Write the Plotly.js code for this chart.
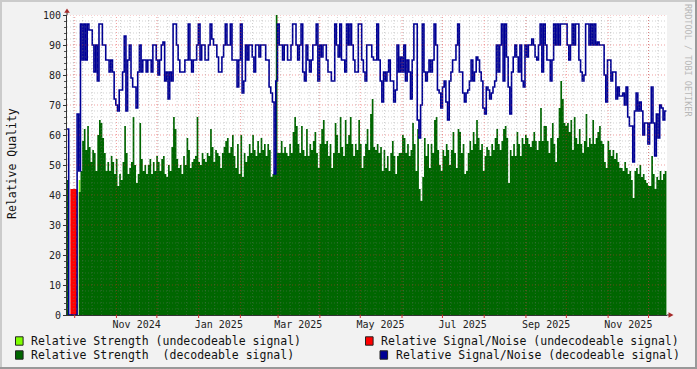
<!DOCTYPE html>
<html><head><meta charset="utf-8">
<script src="https://cdn.plot.ly/plotly-3.0.1.min.js"></script>
<style>html,body{margin:0;padding:0;background:#F2F2F2;}#chart{width:697px;height:369px;}</style>
</head><body><div id="chart"></div>
<script>
// ---- time index: one sample every 30 hours starting 25 Sep 2024 ----
const startDate = Date.UTC(2024, 8, 25, 7, 0, 0);
const stepHours = 30;
const rangeStart = '2024-09-25 07:00:00';
const rangeEnd = '2025-12-14 17:00:00';

// ---- Relative Strength (undecodeable signal) ----
const strengthUndecodeable = [0,0,0,0,0,0,0,45,0];
// ---- Relative Signal/Noise (undecodeable signal) ----
const snrUndecodeable = [0,0,42,42,42,42,0,0];

// ---- Relative Strength (decodeable signal) ----
const strengthStart = [45,0,0,0,0,0,0,41];
const strengthLate2024 = [48,58,62,55,63,56,51,55,54,48,60,65,64,59,54,48,51,48,53,51,
47,52,43,47,45,51,63,54,47,49,51,66,50,44,47,64,52,48,50,47,
50,52,47,51,48,53,51,48,52,53,47,46,50,48,56,66,62,52,49,50,
47,53,50,59,55,49,51,52,53,66,51,50,54,52,51,54,53,62,56,51];
const strengthEarly2025 = [55,54,53,49,54,56,58,59,54,56,60,53,49,57,47,60,46,54,51,53,
57,54,60,55,53,58,54,59,55,57,53,57,55,46,47,49,100,54,54,58,
54,56,54,53,57,54,61,66,63,57,54,63,55,53,62,53,57,55,58,61,
54,49,57,62,65,57,58,53,57,49,54,64,60,54,66,56,53,65,57,60,
66,57,53,57,55,65,57,49,53,57,62,55];
const strengthMid2025 = [67,72,56,55,57,54,56,48,55,49,53,48,54,58,53,47,53,54,54,60,
59,54,57,53,55,64,57,48,62,42,38,46,59,53,57,49,57,54,65,66,
55,50,48,55,53,57,55,50,55,61,54,49,62,61,54,57,47,48,54,58,
55,61,57,65,59,55,57,48,53,56,55,53,57,55,59,62,57,55,58,62,
63,59,44,55,53,57,53,61,57,53,59,57,60,59,57,56];
const strengthLate2025 = [58,61,58,55,58,69,58,63,63,58,54,59,64,57,51,59,69,78,72,64,
63,64,61,65,55,66,59,57,62,57,54,58,67,56,59,57,65,57,59,61,
63,58,57,51,49,58,55,53,55,52,54,51,49,49,48,51,49,47,48,45,
39,48,49,47,50,46,47,45,44,43,43,53,47,42,46,45,48,45,47,48,46];

// ---- Relative Signal/Noise (decodeable signal) ----
const snrStart = [62,0,0,0,0,0,67,48];
const snrLate2024 = [97,85,97,85,97,95,95,90,81,90,78,97,97,90,90,85,85,81,85,81,
72,70,68,75,75,81,93,68,85,90,79,76,76,69,81,90,81,85,85,81,
85,85,81,90,90,85,80,85,90,91,78,81,72,81,78,97,97,90,85,81,
81,81,85,85,97,85,81,85,85,90,97,85,90,90,85,85,90,97,92,90];
const snrEarly2025 = [90,86,81,81,86,90,97,90,90,97,85,85,85,76,85,97,74,78,90,85,
90,90,86,81,90,90,86,90,90,90,85,85,76,74,71,47,78,97,90,90,
85,90,90,85,85,90,97,97,90,85,90,97,81,78,90,85,81,85,90,90,
97,78,90,86,90,90,85,81,81,78,78,97,90,86,97,85,85,81,97,90,
97,90,85,81,81,97,97,85,81,78,90,90];
const snrMid2025 = [90,86,85,85,97,85,78,71,81,78,81,85,78,78,71,75,90,81,86,81,
90,78,85,81,72,85,97,97,65,59,70,97,81,78,81,85,81,85,97,90,
75,74,69,76,78,71,65,78,81,85,85,90,97,81,81,74,71,74,75,78,
85,78,81,86,85,81,78,69,67,76,75,72,74,76,78,90,81,90,97,78,
97,86,76,67,81,86,90,86,81,90,78,76,90,86,90,90];
const snrLate2025 = [92,90,86,85,90,97,81,97,90,85,85,78,85,97,90,97,90,97,97,97,
97,90,85,90,97,90,97,97,85,81,78,80,97,97,90,97,90,97,90,91,
90,90,90,80,71,85,85,78,81,81,72,76,73,73,74,70,76,66,63,63,
51,68,74,68,71,68,60,64,64,57,64,76,64,53,67,59,70,69,65,68,68];

// ---- axis labels ----
const monthLabels = ['Nov 2024','Jan 2025','Mar 2025','May 2025','Jul 2025','Sep 2025','Nov 2025'];
const monthLabelDates = ['2024-11-16','2025-01-16','2025-03-16','2025-05-16','2025-07-16','2025-09-16','2025-11-16'];
const yTicks = [0,10,20,30,40,50,60,70,80,90,100];

const legendItems = [
  {text:'Relative Strength (undecodeable signal)', color:'#7FFF00', px:15.5, tx:30, py:341},
  {text:'Relative Signal/Noise (undecodeable signal)', color:'#FF0000', px:365.5, tx:380, py:341},
  {text:'Relative Strength\u00a0\u00a0(decodeable signal)', color:'#006600', px:15.5, tx:30, py:355},
  {text:'Relative Signal/Noise (decodeable signal)', color:'#000094', px:380, tx:394.5, py:355}
];

// ---- build ----
function dateAt(i){ return new Date(startDate + i*stepHours*3600000).toISOString().slice(0,19).replace('T',' '); }
const strength = [].concat(strengthStart, strengthLate2024, strengthEarly2025, strengthMid2025, strengthLate2025);
const snr = [].concat(snrStart, snrLate2024, snrEarly2025, snrMid2025, snrLate2025);
const xs = strength.map((_, i) => dateAt(i));

function area(y, color){
  return {type:'scatter', mode:'lines', x: xs.slice(0, y.length), y: y,
    line:{shape:'hv', width:0, color:color}, fill:'tozeroy', fillcolor:color, hoverinfo:'skip'};
}
const traces = [
  area(strengthUndecodeable, '#7FFF00'),
  area(strength, '#006600'),
  area(snrUndecodeable, '#FF0000'),
  {type:'scatter', mode:'lines', x: xs, y: snr, line:{shape:'hv', width:1.6, color:'#000094'}, hoverinfo:'skip'}
];

const L = 67, T = 15, W = 600, H = 300;
const px = v => (v - L) / W;
const py = v => (T + H - v) / H;
const fontMono = 'DejaVu Sans Mono';

const shapes = [];
const minorGrid = 'rgba(120,120,120,0.35)';
const majorGrid = 'rgba(225,40,40,0.45)';
// horizontal grid
for (let v = 2; v <= 100; v += 2) {
  const major = v % 10 === 0;
  shapes.push({type:'line', xref:'paper', yref:'y', x0:0, x1:1, y0:v, y1:v, layer:'above',
    line:{color: major ? majorGrid : minorGrid, width:1, dash:'1px,2px'}});
}
// weekly minor grid (Mondays)
for (let t = Date.UTC(2024,8,30); t <= Date.UTC(2025,11,14); t += 7*86400000) {
  const d = new Date(t).toISOString().slice(0,10);
  shapes.push({type:'line', xref:'x', yref:'paper', x0:d, x1:d, y0:0, y1:1, layer:'above',
    line:{color:minorGrid, width:1, dash:'1px,2px'}});
}
// monthly major grid + red ticks
for (let m = 0; m < 15; m++) {
  const dt = new Date(Date.UTC(2024, 9 + m, 1)).toISOString().slice(0,10);
  shapes.push({type:'line', xref:'x', yref:'paper', x0:dt, x1:dt, y0:0, y1:1, layer:'above',
    line:{color:majorGrid, width:1, dash:'1px,2px'}});
  shapes.push({type:'line', xref:'x', yref:'paper', x0:dt, x1:dt, y0:0, y1:-3/H, layer:'above',
    line:{color:'#D03030', width:1}});
}
// axis extensions & arrows
shapes.push({type:'line', xref:'paper', yref:'paper', x0:0, x1:0, y0:1, y1:py(11), line:{color:'#333', width:1}});
shapes.push({type:'line', xref:'paper', yref:'paper', x0:1, x1:px(670), y0:0, y1:0, line:{color:'#333', width:1}});
shapes.push({type:'path', xref:'paper', yref:'paper', fillcolor:'#A52A2A', line:{width:0},
  path:`M ${px(64.2)} ${py(12.8)} L ${px(69.8)} ${py(12.8)} L ${px(67)} ${py(8.5)} Z`});
shapes.push({type:'path', xref:'paper', yref:'paper', fillcolor:'#A52A2A', line:{width:0},
  path:`M ${px(668.5)} ${py(312.2)} L ${px(668.5)} ${py(317.8)} L ${px(673.5)} ${py(315)} Z`});
// legend boxes
legendItems.forEach(it => {
  shapes.push({type:'rect', xref:'paper', yref:'paper', x0:px(it.px), x1:px(it.px+7.6),
    y0:py(it.py+4.2), y1:py(it.py-4.2), fillcolor:it.color, line:{color:'#222', width:1}});
});
// outer frame
shapes.push({type:'rect', xref:'paper', yref:'paper', x0:px(0), x1:px(697), y0:py(2), y1:py(0), fillcolor:'#CBCBCB', line:{width:0}});
shapes.push({type:'rect', xref:'paper', yref:'paper', x0:px(0), x1:px(2), y0:py(369), y1:py(0), fillcolor:'#CBCBCB', line:{width:0}});
shapes.push({type:'rect', xref:'paper', yref:'paper', x0:px(0), x1:px(697), y0:py(369), y1:py(367), fillcolor:'#999999', line:{width:0}});
shapes.push({type:'rect', xref:'paper', yref:'paper', x0:px(695), x1:px(697), y0:py(369), y1:py(0), fillcolor:'#999999', line:{width:0}});

const annotations = legendItems.map(it => ({
  xref:'paper', yref:'paper', x:px(it.tx), y:py(it.py), xanchor:'left', yanchor:'middle',
  text:it.text, showarrow:false, borderpad:0, font:{family:fontMono, size:11.5, color:'#111'}
}));
annotations.push({xref:'paper', yref:'paper', x:px(12), y:py(164), xanchor:'center', yanchor:'middle',
  text:'Relative Quality', textangle:-90,
  showarrow:false, borderpad:0, font:{family:fontMono, size:11.5, color:'#111'}});
annotations.push({xref:'paper', yref:'paper', x:px(688), y:py(60), xanchor:'center', yanchor:'middle',
  text:'RRDTOOL / TOBI OETIKER', textangle:90,
  showarrow:false, borderpad:0, font:{family:fontMono, size:8.5, color:'#B8B8B8'}});

const layout = {
  width:697, height:369,
  margin:{l:L, r:697-L-W, t:T, b:369-T-H, pad:0},
  paper_bgcolor:'#F2F2F2', plot_bgcolor:'#FFFFFF',
  showlegend:false, hovermode:false,
  font:{family:fontMono, size:10, color:'#222'},
  xaxis:{type:'date', range:[rangeStart, rangeEnd], showgrid:false, zeroline:false,
    showline:true, linecolor:'#333', linewidth:1,
    tickmode:'array', tickvals:monthLabelDates, ticktext:monthLabels, ticks:'',
    tickfont:{family:fontMono, size:10, color:'#222'}},
  yaxis:{range:[0,100], showgrid:false, zeroline:false, showline:true, linecolor:'#333', linewidth:1,
    tickmode:'array', tickvals:yTicks, ticks:'outside', ticklen:3, tickcolor:'#333',
    minor:{dtick:2, ticks:'outside', ticklen:2, tickcolor:'#555', showgrid:false},
    tickfont:{family:fontMono, size:10, color:'#222'}},
  shapes:shapes, annotations:annotations
};
Plotly.newPlot('chart', traces, layout, {staticPlot:true, displayModeBar:false});
</script></body></html>
